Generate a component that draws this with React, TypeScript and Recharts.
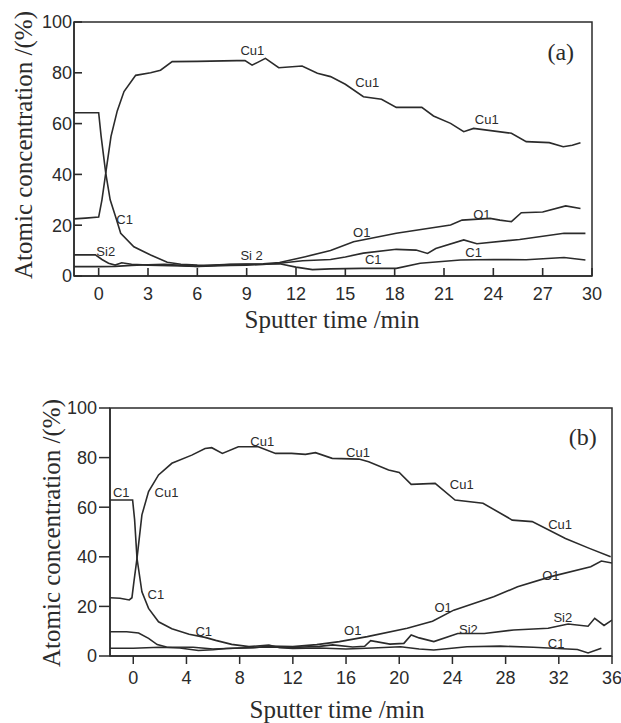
import React from "react";
import { LineChart, Line, XAxis, YAxis, ReferenceArea, ReferenceDot, ReferenceLine } from "recharts";

type Pt = [number, number];

// tick labels
const yTicks = [0, 20, 40, 60, 80, 100];
const xTicksA = [0, 3, 6, 9, 12, 15, 18, 21, 24, 27, 30];
const xTicksB = [0, 4, 8, 12, 16, 20, 24, 28, 32, 36];

// panel (a): [sputter time min, atomic %]
const cuA: Pt[] = [
  [-1.5, 22.5], [-0.8, 22.8], [0, 23.2], [0.2, 30], [0.43, 40.5], [0.75, 55], [1.13, 65],
  [1.54, 72.6], [2.25, 79], [3.16, 80], [3.76, 81], [4.47, 84.4], [6, 84.5], [8.4, 84.8],
  [8.9, 84.8], [9.33, 83], [9.7, 84.2], [10.14, 85.7], [10.95, 82], [12.37, 82.7], [13.3, 79.8],
  [14.1, 78.5], [15, 75.5], [16.1, 70.6], [17.2, 69.6], [18.1, 66.4], [19.65, 66.4], [20.36, 63],
  [21.4, 60.1], [22.2, 56.8], [22.8, 58.1], [25.1, 56.2], [26, 52.9], [27.4, 52.5], [28.25, 50.9],
  [28.8, 51.5], [29.3, 52.5],
];
const cA: Pt[] = [
  [-1.5, 64.3], [0, 64.3], [0.15, 55], [0.43, 40.5], [0.7, 30], [1.03, 23.3], [1.34, 16.8],
  [2.14, 11.5], [3.16, 8.3], [4.17, 5.4], [5, 4.6], [6, 4.3], [7, 4.2], [8, 4.5], [9, 4.7],
  [10, 4.6], [11, 4.8], [12, 3.5], [13, 2.5], [14.1, 2.8], [16, 3], [18.1, 3], [19.55, 5],
  [22, 6.3], [24, 6.5], [26, 6.4], [28.3, 7.3], [29.6, 6.3],
];
const siA: Pt[] = [
  [-1.5, 8.3], [-0.2, 8.3], [0.2, 6.5], [0.6, 5], [1, 4.3], [1.4, 5.2], [2, 4.6], [3, 4.3],
  [5, 4], [6, 3.8], [7, 4], [8, 4.2], [9, 4.3], [10, 4.5], [11, 5], [12.4, 6], [14.1, 6.5],
  [15, 7.5], [16.1, 9], [18.1, 10.5], [19.3, 10.2], [20, 8.9], [20.5, 10.8], [22.2, 14.2],
  [23, 12.7], [25.6, 14.4], [28.3, 16.8], [29.6, 16.8],
];
const oA: Pt[] = [
  [-1.5, 3.7], [0, 3.7], [1, 3.8], [2, 4.2], [3, 4.4], [4, 4.6], [5, 4.2], [6, 3.8], [7, 4.3],
  [8, 4.6], [9, 4.6], [10, 4.8], [11, 5.3], [12.5, 7.5], [14.1, 10], [15.5, 13.5], [18.1, 16.8],
  [21.4, 20.1], [22.1, 22], [23.8, 22.7], [24.4, 22], [25.1, 21.4], [25.7, 24.9], [27, 25.2],
  [28.4, 27.6], [29.3, 26.6],
];

// panel (b)
const cuB: Pt[] = [
  [-1.75, 23.5], [-1, 23.3], [-0.3, 22.6], [-0.1, 23.5], [0.05, 30], [0.28, 39.4], [0.65, 56.9],
  [1.15, 66.3], [1.9, 73], [2.9, 77.7], [4.4, 81], [5.4, 83.7], [5.9, 84], [6.7, 81.7], [7.9, 84.4],
  [9.4, 84.4], [10.7, 81.7], [11.9, 81.7], [12.95, 81.3], [13.7, 82], [14.96, 79.7], [16.97, 79.4],
  [17.7, 78.3], [19.2, 75], [20, 74], [20.9, 69.2], [22.7, 69.6], [24.2, 62.9], [26.3, 61.6],
  [28.5, 54.8], [30, 54.2], [32.5, 47.4], [34.3, 43.4], [35.9, 40],
];
const cB: Pt[] = [
  [-1.75, 62.9], [-0.05, 62.9], [0.1, 55], [0.28, 39.4], [0.65, 25.9], [1.15, 19.2], [1.9, 13.8],
  [2.9, 11], [4.2, 8.8], [5.4, 7.5], [6.2, 6.3], [7.4, 4.7], [8.7, 3.8], [10.2, 4.4], [11, 3.3],
  [12, 3], [14, 3.2], [16, 2.8], [18, 3.2], [20.1, 3.7], [21.5, 2.8], [22.6, 2.4], [25.1, 3.7],
  [27.6, 4], [30.1, 3.5], [33.4, 2.6], [34.2, 1.2], [35.2, 3.1],
];
const siB: Pt[] = [
  [-1.75, 9.8], [-0.5, 9.8], [0.4, 9.3], [1.15, 7.1], [1.8, 4.6], [2.5, 3.6], [4.5, 3.5], [6, 2.8],
  [8, 3.2], [10, 3.6], [12, 3.4], [14, 3.9], [15, 4.5], [16.5, 3.6], [17.4, 3.9], [17.85, 6.2],
  [19.3, 4.8], [20.35, 5.1], [20.9, 8.5], [21.5, 7.3], [22.6, 5.8], [24.4, 9.1], [26.4, 9.1],
  [28.6, 10.5], [31.2, 11.2], [32.7, 12.9], [34.2, 12], [34.7, 15.2], [35.4, 12.3], [36, 14.5],
];
const oB: Pt[] = [
  [-1.75, 3.1], [0, 3.1], [2, 3.5], [3.5, 3.2], [4.9, 2.2], [6, 2.5], [7, 3], [9, 3.3], [10.2, 4],
  [12, 3.8], [13.8, 4.6], [15.5, 5.8], [17.6, 7.8], [20.6, 11.2], [22.5, 14], [24.1, 18.5],
  [27.1, 23.9], [28.9, 27.9], [31.4, 32], [34.4, 36], [35.2, 38.3], [36, 37.5],
];

// curve annotations: [text, t, %]
const notesA: [string, number, number][] = [
  ["Cu1", 9.35, 88.6], ["Cu1", 16.33, 76], ["Cu1", 23.6, 61.8], ["C1", 1.58, 22.4],
  ["Si2", 0.43, 9.8], ["Si 2", 9.3, 7.9], ["O1", 16, 17.3], ["O1", 23.3, 24.4],
  ["C1", 16.7, 6.3], ["C1", 22.8, 9.4],
];
const notesB: [string, number, number][] = [
  ["C1", -0.9, 66.1], ["Cu1", 2.5, 66.1], ["Cu1", 9.7, 86.3], ["Cu1", 16.9, 81.9],
  ["Cu1", 24.7, 69], ["Cu1", 32.1, 53.2], ["C1", 1.7, 24.6], ["C1", 5.3, 9.7],
  ["O1", 16.5, 10.1], ["O1", 23.3, 19.4], ["O1", 31.4, 32.3], ["Si2", 25.2, 10.5],
  ["Si2", 32.3, 15.7], ["C1", 31.8, 5.2],
];

const ink = "#2b2b2b";
const sans = "Liberation Sans, Arial, sans-serif";
const serif = "Liberation Serif, 'Times New Roman', serif";
const tickFont = { fill: ink, fontSize: 18, fontFamily: sans };

const rows = (pts: Pt[]) => pts.map(([t, v]) => ({ t, v }));

const Note = (text: string) => (p: any) => (
  <text x={p.cx} y={p.cy} textAnchor="middle" dominantBaseline="central" fontSize={13} fontFamily={sans} fill={ink}>
    {text}
  </text>
);

interface PanelProps {
  series: Pt[][];
  notes: [string, number, number][];
  ticks: number[];
  domain: [number, number];
  tag: string;
  tagAt: [number, number];
  height: number;
  margin: { top: number; right: number; left: number; bottom: number };
  yWidth: number;
  inward: boolean;
}

function Panel({ series, notes, ticks, domain, tag, tagAt, height, margin, yWidth, inward }: PanelProps) {
  // 8px inner tick length in data units
  const plotW = 621 - margin.left - margin.right - yWidth;
  const plotH = height - margin.top - margin.bottom - 30;
  const tx = (8 / plotW) * (domain[1] - domain[0]);
  const ty = (8 / plotH) * 100;
  return (
    <LineChart width={621} height={height} margin={margin}>
      <XAxis
        type="number"
        dataKey="t"
        domain={domain}
        ticks={ticks}
        interval={0}
        allowDataOverflow
        height={30}
        stroke={ink}
        strokeWidth={1.5}
        tickLine={!inward}
        tickSize={inward ? 0 : 8}
        tickMargin={inward ? 11 : 7}
        tick={tickFont}
      />
      <YAxis
        type="number"
        domain={[0, 100]}
        ticks={yTicks}
        interval={0}
        width={yWidth}
        stroke={ink}
        strokeWidth={1.5}
        tickLine={!inward}
        tickSize={inward ? 0 : 11}
        tickMargin={2}
        tick={tickFont}
      />
      <ReferenceArea
        x1={domain[0]}
        x2={domain[1]}
        y1={0}
        y2={100}
        fill="none"
        stroke={ink}
        strokeWidth={1.5}
        ifOverflow="visible"
      />
      {series.map((s, i) => (
        <Line
          key={i}
          data={rows(s)}
          dataKey="v"
          type="linear"
          stroke={ink}
          strokeWidth={1.6}
          dot={false}
          activeDot={false}
          isAnimationActive={false}
        />
      ))}
      {inward &&
        ticks.map((t) => (
          <ReferenceLine
            key={"xt" + t}
            segment={[{ x: t, y: 0 }, { x: t, y: ty }]}
            stroke={ink}
            strokeWidth={1.6}
            ifOverflow="visible"
          />
        ))}
      {inward &&
        yTicks.map((v) => (
          <ReferenceLine
            key={"yt" + v}
            segment={[{ x: domain[0], y: v }, { x: domain[0] + tx, y: v }]}
            stroke={ink}
            strokeWidth={1.6}
            ifOverflow="visible"
          />
        ))}
      {notes.map(([text, t, v], i) => (
        <ReferenceDot key={i} x={t} y={v} r={0} ifOverflow="visible" shape={Note(text)} />
      ))}
      <ReferenceDot
        x={tagAt[0]}
        y={tagAt[1]}
        r={0}
        ifOverflow="visible"
        shape={(p: any) => (
          <text x={p.cx} y={p.cy} textAnchor="middle" dominantBaseline="central" fontSize={24} fontFamily={serif} fill={ink}>
            {tag}
          </text>
        )}
      />
    </LineChart>
  );
}

const title: React.CSSProperties = {
  position: "absolute",
  fontFamily: serif,
  fontSize: 25,
  color: ink,
  whiteSpace: "nowrap",
  lineHeight: "25px",
};

export default function App() {
  return (
    <div style={{ position: "absolute", left: 0, top: 0, width: 621, height: 723, background: "#fff" }}>
      <div style={{ position: "absolute", left: 0, top: 0 }}>
        <Panel
          series={[cuA, cA, siA, oA]}
          notes={notesA}
          ticks={xTicksA}
          domain={[-1.5, 30]}
          tag="(a)"
          tagAt={[28.1, 88.2]}
          height={345}
          margin={{ top: 22, right: 29, left: 0, bottom: 39 }}
          yWidth={74}
          inward
        />
      </div>
      <div style={{ position: "absolute", left: 0, top: 380 }}>
        <Panel
          series={[cuB, cB, siB, oB]}
          notes={notesB}
          ticks={xTicksB}
          domain={[-1.75, 36]}
          tag="(b)"
          tagAt={[33.8, 88.3]}
          height={343}
          margin={{ top: 28, right: 9, left: 0, bottom: 37 }}
          yWidth={110}
          inward={false}
        />
      </div>
      <div style={{ ...title, left: 332, top: 307, transform: "translateX(-50%)" }}>Sputter time /min</div>
      <div style={{ ...title, left: 337, top: 697, transform: "translateX(-50%)" }}>Sputter time /min</div>
      <div style={{ ...title, left: 23, top: 145, transform: "translate(-50%, -50%) rotate(-90deg)" }}>
        Atomic concentration /(%)
      </div>
      <div style={{ ...title, left: 51, top: 533, transform: "translate(-50%, -50%) rotate(-90deg)" }}>
        Atomic concentration /(%)
      </div>
    </div>
  );
}
